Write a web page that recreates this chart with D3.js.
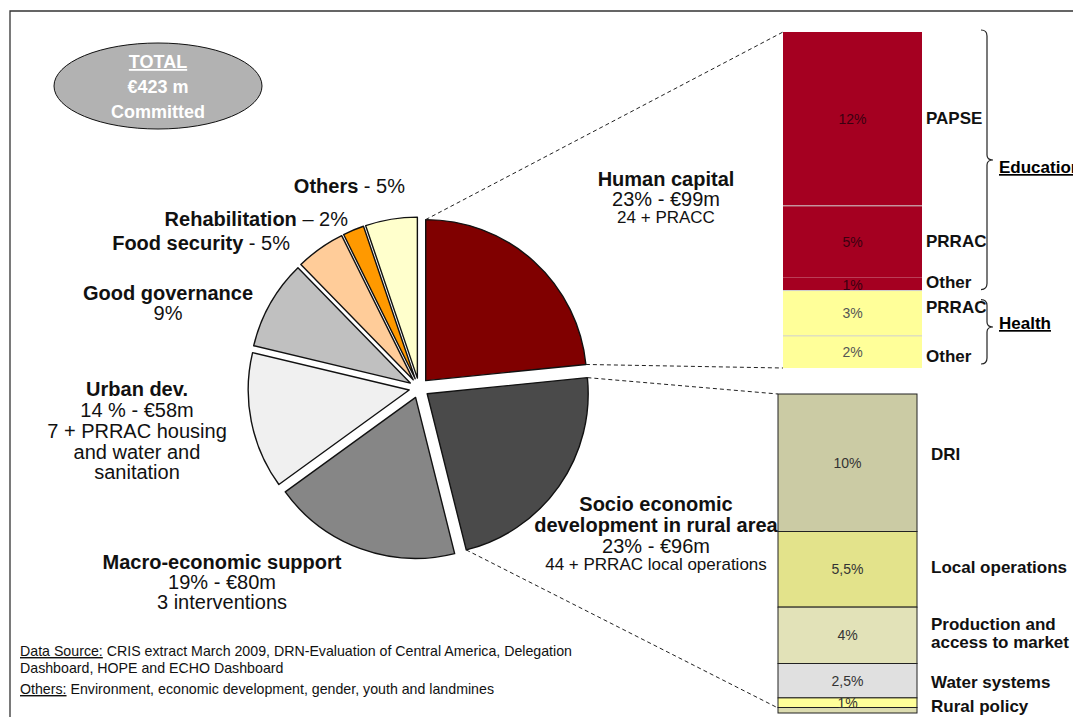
<!DOCTYPE html>
<html>
<head>
<meta charset="utf-8">
<script src="https://cdn.jsdelivr.net/npm/d3@7"></script>
<style>
  body { margin: 0; background: #fff; }
  svg { display: block; }
</style>
</head>
<body>
<script>
// pie: committed amounts (EUR m) by sector
var sectors = ["Human capital", "Socio economic", "Macro-economic support", "Urban dev.",
               "Good governance", "Food security", "Rehabilitation", "Others"];
var sectorAmounts = [99, 96, 80, 58, 38, 21, 9, 22];

// human capital breakdown (share of total, %)
var hcItems  = ["PAPSE", "PRRAC", "Other", "PRRAC", "Other"];
var hcGroups = ["Education", "Education", "Education", "Health", "Health"];
var hcValues = [11.9, 4.9, 0.9, 3.1, 2.2];
var hcLabels = ["12%", "5%", "1%", "3%", "2%"];

// rural development breakdown (share of total, %)
var rurItems  = [["DRI"], ["Local operations"], ["Production and", "access to market"],
                 ["Water systems"], ["Rural policy"], []];
var rurValues = [10, 5.5, 4.1, 2.5, 0.7, 0.4];
var rurLabels = ["10%", "5,5%", "4%", "2,5%", "1%", ""];

var width = 1073;
var height = 717;
var font = "'Liberation Sans', Arial, sans-serif";

var svg = d3.select("body")
    .append("svg")
    .attr("width", width)
    .attr("height", height)
    .style("font-family", font);

// frame
svg.append("path")
    .attr("d", "M10," + height + "V11H" + width)
    .attr("fill", "none")
    .attr("stroke", "#333")
    .attr("stroke-width", 1.3);

// total ellipse
var tot = svg.append("g").attr("transform", "translate(158,86)");
tot.append("ellipse")
    .attr("rx", 104).attr("ry", 43)
    .attr("fill", "#b2b2b2")
    .attr("stroke", "#111")
    .attr("stroke-width", 1);
tot.selectAll("text")
    .data(["TOTAL", "€423 m", "Committed"])
    .enter().append("text")
    .attr("y", function(d, i) { return -18 + i * 25; })
    .attr("text-anchor", "middle")
    .attr("fill", "#fff")
    .attr("font-weight", "bold")
    .attr("font-size", 18)
    .style("text-decoration", function(d, i) { return i == 0 ? "underline" : null; })
    .text(function(d) { return d; });

// pie
var color = d3.scaleOrdinal()
    .domain(sectors)
    .range(["#800000", "#4a4a4a", "#868686", "#f0f0f0", "#c0c0c0", "#ffcc99", "#ff9900", "#ffffcc"]);

var cx = 419, cy = 388, radius = 161, explode = 10;

var pie = d3.pie().sort(null);
var slices = pie(sectorAmounts);
var arc = d3.arc().innerRadius(0).outerRadius(radius);

function offset(d) {
    var a = (d.startAngle + d.endAngle) / 2;
    return [cx + explode * Math.sin(a), cy - explode * Math.cos(a)];
}
function corner(d, ang) {
    var o = offset(d);
    return [o[0] + radius * Math.sin(ang), o[1] - radius * Math.cos(ang)];
}

svg.selectAll(".slice")
    .data(slices)
    .enter().append("path")
    .attr("class", "slice")
    .attr("transform", function(d) { return "translate(" + offset(d) + ")"; })
    .attr("d", arc)
    .attr("fill", function(d, i) { return color(sectors[i]); })
    .attr("stroke", "#111")
    .attr("stroke-width", 1.4)
    .attr("stroke-linejoin", "round");

// stacked bars
var hcX = 783, hcW = 139;
var hcY = d3.scaleLinear().domain([0, d3.sum(hcValues)]).range([32, 368]);
var hcCum = [0].concat(Array.from(d3.cumsum(hcValues)));

var rurX = 778, rurW = 139;
var rurY = d3.scaleLinear().domain([0, d3.sum(rurValues)]).range([394, 713]);
var rurCum = [0].concat(Array.from(d3.cumsum(rurValues)));

// dashed connectors
var hc = slices[0], rur = slices[1];
var links = [
    [corner(hc, hc.startAngle), [hcX, hcY(0)]],
    [corner(hc, hc.endAngle), [hcX, hcY(d3.sum(hcValues))]],
    [corner(rur, rur.startAngle), [rurX, rurY(0)]],
    [corner(rur, rur.endAngle), [rurX, rurY(d3.sum(rurValues)) - 5]]
];
svg.selectAll(".link")
    .data(links)
    .enter().append("line")
    .attr("class", "link")
    .attr("x1", function(d) { return d[0][0]; })
    .attr("y1", function(d) { return d[0][1]; })
    .attr("x2", function(d) { return d[1][0]; })
    .attr("y2", function(d) { return d[1][1]; })
    .attr("stroke", "#222")
    .attr("stroke-width", 1)
    .attr("stroke-dasharray", "4,3");

// human capital bar
var hcColor = { "Education": "#a50021", "Health": "#ffff99" };
svg.selectAll(".hcseg")
    .data(hcValues)
    .enter().append("rect")
    .attr("class", "hcseg")
    .attr("x", hcX)
    .attr("y", function(d, i) { return hcY(hcCum[i]); })
    .attr("width", hcW)
    .attr("height", function(d, i) { return hcY(hcCum[i + 1]) - hcY(hcCum[i]); })
    .attr("fill", function(d, i) { return hcColor[hcGroups[i]]; });

// light separators (none between PRRAC and Other of education)
svg.selectAll(".hcsep")
    .data([1, 3, 4])
    .enter().append("line")
    .attr("class", "hcsep")
    .attr("x1", hcX).attr("x2", hcX + hcW)
    .attr("y1", function(i) { return hcY(hcCum[i]); })
    .attr("y2", function(i) { return hcY(hcCum[i]); })
    .attr("stroke", "#cfcfcf")
    .attr("stroke-width", 1);

svg.selectAll(".hcval")
    .data(hcLabels)
    .enter().append("text")
    .attr("class", "hcval")
    .attr("x", hcX + hcW / 2)
    .attr("y", function(d, i) {
        var mid = hcY((hcCum[i] + hcCum[i + 1]) / 2);
        return i == 2 ? hcY(hcCum[i + 1]) - 1 : mid + 5;
    })
    .attr("text-anchor", "middle")
    .attr("font-size", 14)
    .attr("fill", function(d, i) { return hcGroups[i] == "Education" ? "#3a0010" : "#555"; })
    .text(function(d) { return d; });

var hcNameY = [124, 247, 288, 313, 362];
svg.selectAll(".hcname")
    .data(hcItems)
    .enter().append("text")
    .attr("class", "hcname")
    .attr("x", hcX + hcW + 4)
    .attr("y", function(d, i) { return hcNameY[i]; })
    .attr("font-size", 17)
    .attr("font-weight", "bold")
    .attr("fill", "#111")
    .text(function(d) { return d; });

// braces
function brace(x, y1, y2, tip) {
    var m = tip;
    return "M" + (x - 6) + "," + y1 + "Q" + x + "," + y1 + " " + x + "," + (y1 + 6) +
        "L" + x + "," + (m - 5) + "Q" + x + "," + m + " " + (x + 6) + "," + m +
        "Q" + x + "," + m + " " + x + "," + (m + 5) +
        "L" + x + "," + (y2 - 6) + "Q" + x + "," + y2 + " " + (x - 6) + "," + y2;
}
var groups = [
    { name: "Education", y1: hcY(0) - 2, y2: hcY(hcCum[3]) - 1, tip: 160, ty: 173 },
    { name: "Health", y1: hcY(hcCum[3]) + 9, y2: hcY(hcCum[5]) - 4, tip: 327, ty: 329 }
];
svg.selectAll(".brace")
    .data(groups)
    .enter().append("path")
    .attr("class", "brace")
    .attr("d", function(d) { return brace(987, d.y1, d.y2, d.tip); })
    .attr("fill", "none")
    .attr("stroke", "#222")
    .attr("stroke-width", 1.2);
svg.selectAll(".grp")
    .data(groups)
    .enter().append("text")
    .attr("class", "grp")
    .attr("x", 999)
    .attr("y", function(d) { return d.ty; })
    .attr("font-size", 17)
    .attr("font-weight", "bold")
    .style("text-decoration", "underline")
    .text(function(d) { return d.name; });

// rural bar
var rurColor = ["#cbcba4", "#e3e38b", "#e2e2b8", "#e0e0e0", "#ffff99", "#dcdcb0"];
svg.selectAll(".rurseg")
    .data(rurValues)
    .enter().append("rect")
    .attr("class", "rurseg")
    .attr("x", rurX)
    .attr("y", function(d, i) { return rurY(rurCum[i]); })
    .attr("width", rurW)
    .attr("height", function(d, i) { return rurY(rurCum[i + 1]) - rurY(rurCum[i]); })
    .attr("fill", function(d, i) { return rurColor[i]; })
    .attr("stroke", "#222")
    .attr("stroke-width", 1);

svg.selectAll(".rurval")
    .data(rurLabels)
    .enter().append("text")
    .attr("class", "rurval")
    .attr("x", rurX + rurW / 2)
    .attr("y", function(d, i) { return rurY((rurCum[i] + rurCum[i + 1]) / 2) + 5; })
    .attr("text-anchor", "middle")
    .attr("font-size", 14)
    .attr("fill", "#333")
    .text(function(d) { return d; });

var rurNameY = [460, 573, 630, 688, 712];
svg.selectAll(".rurname")
    .data(rurItems)
    .enter().append("text")
    .attr("class", "rurname")
    .attr("x", rurX + rurW + 14)
    .attr("y", function(d, i) { return rurNameY[i]; })
    .attr("font-size", 17)
    .attr("font-weight", "bold")
    .attr("fill", "#111")
    .selectAll("tspan")
    .data(function(d) { return d; })
    .enter().append("tspan")
    .attr("x", rurX + rurW + 14)
    .attr("dy", function(d, i) { return i ? 18 : 0; })
    .text(function(d) { return d; });

// pie labels: centred blocks
var blocks = [
    { x: 666, lines: [["Human capital", 20, "bold", 186], ["23% - €99m", 20, "normal", 206], ["24 + PRACC", 17, "normal", 223]] },
    { x: 656, lines: [["Socio economic", 20, "bold", 511], ["development in rural area", 20, "bold", 532],
                      ["23% - €96m", 20, "normal", 553], ["44 + PRRAC local operations", 17, "normal", 570]] },
    { x: 222, lines: [["Macro-economic support", 20, "bold", 569], ["19% - €80m", 20, "normal", 589], ["3 interventions", 20, "normal", 609]] },
    { x: 137, lines: [["Urban dev.", 20, "bold", 396], ["14 % - €58m", 20, "normal", 417], ["7 + PRRAC housing", 20, "normal", 438],
                      ["and water and", 20, "normal", 459], ["sanitation", 20, "normal", 479]] },
    { x: 168, lines: [["Good governance", 20, "bold", 300], ["9%", 20, "normal", 320]] }
];
blocks.forEach(function(b) {
    svg.append("g").selectAll("text")
        .data(b.lines)
        .enter().append("text")
        .attr("x", b.x)
        .attr("y", function(d) { return d[3]; })
        .attr("text-anchor", "middle")
        .attr("font-size", function(d) { return d[1]; })
        .attr("font-weight", function(d) { return d[2]; })
        .attr("fill", "#111")
        .text(function(d) { return d[0]; });
});

// inline labels (bold name + share)
var inline = [
    ["Others", " - 5%", 405, 193],
    ["Rehabilitation", " – 2%", 348, 226],
    ["Food security", " - 5%", 290, 250]
];
inline.forEach(function(d) {
    var t = svg.append("text")
        .attr("x", d[2])
        .attr("y", d[3])
        .attr("text-anchor", "end")
        .attr("font-size", 20)
        .attr("fill", "#111");
    t.append("tspan").attr("font-weight", "bold").text(d[0]);
    t.append("tspan").text(d[1]);
});

// footer notes
var notes = [
    ["Data Source:", " CRIS extract March 2009, DRN-Evaluation of Central America, Delegation", 656],
    ["", "Dashboard, HOPE and ECHO Dashboard", 673],
    ["Others:", " Environment, economic development, gender, youth and landmines", 694]
];
notes.forEach(function(d) {
    var t = svg.append("text")
        .attr("x", 20)
        .attr("y", d[2])
        .attr("font-size", 14.2)
        .attr("fill", "#111");
    if (d[0]) t.append("tspan").style("text-decoration", "underline").text(d[0]);
    t.append("tspan").text(d[1]);
});
</script>
</body>
</html>
